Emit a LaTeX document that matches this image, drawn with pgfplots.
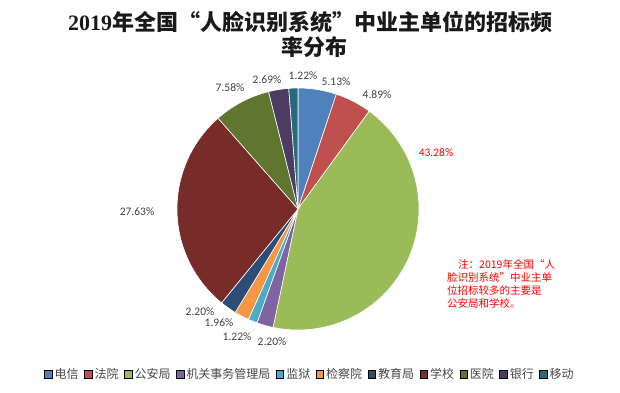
\documentclass[border=0pt]{standalone}
\usepackage{fontspec}
\usepackage{pgfplots}
\usepackage{pgfplotstable}
\pgfplotsset{compat=1.18}
\setmainfont{Noto Sans CJK SC}
\newfontfamily\lab{Carlito}
\newfontfamily\titlat{Liberation Serif}
\definecolor{c1}{HTML}{4F81BD}
\definecolor{c2}{HTML}{C0504D}
\definecolor{c3}{HTML}{9BBB59}
\definecolor{c4}{HTML}{8064A2}
\definecolor{c5}{HTML}{4BACC6}
\definecolor{c6}{HTML}{F79646}
\definecolor{c7}{HTML}{2C4D75}
\definecolor{c8}{HTML}{772C2A}
\definecolor{c9}{HTML}{5F7530}
\definecolor{c10}{HTML}{4D3B62}
\definecolor{c11}{HTML}{276A7C}
\definecolor{labgray}{HTML}{404040}
\pgfplotstableread{
val col
5.13 c1
4.89 c2
43.28 c3
2.20 c4
1.22 c5
1.96 c6
2.20 c7
27.63 c8
7.58 c9
2.69 c10
1.22 c11
}\pietable
\begin{document}
\begin{tikzpicture}
\begin{axis}[
  scale only axis, width=620pt, height=392pt,
  xmin=0, xmax=620, ymin=0, ymax=392,
  hide axis, clip=false,
  legend columns=-1,
  legend image code/.code={\fill[#1] (0pt,-3.8pt) rectangle (7.5pt,3.7pt);},
  legend style={at={(axis cs:310,18)}, anchor=center, draw=none, fill=none,
    font=\fontsize{12}{14}\selectfont\color{black!72},
    inner sep=0pt,
    /tikz/every even column/.append style={column sep=3.5pt},
    /tikz/every odd column/.append style={column sep=0.5pt}},
]
\path (axis cs:0,0) rectangle (axis cs:620,392);
\addlegendimage{fill=c1}\addlegendentry{电信}
\addlegendimage{fill=c2}\addlegendentry{法院}
\addlegendimage{fill=c3}\addlegendentry{公安局}
\addlegendimage{fill=c4}\addlegendentry{机关事务管理局}
\addlegendimage{fill=c5}\addlegendentry{监狱}
\addlegendimage{fill=c6}\addlegendentry{检察院}
\addlegendimage{fill=c7}\addlegendentry{教育局}
\addlegendimage{fill=c8}\addlegendentry{学校}
\addlegendimage{fill=c9}\addlegendentry{医院}
\addlegendimage{fill=c10}\addlegendentry{银行}
\addlegendimage{fill=c11}\addlegendentry{移动}
\pgfplotsextra{
  \pgfplotstablegetrowsof{\pietable}
  \pgfmathtruncatemacro{\N}{\pgfplotsretval-1}
  \gdef\cum{0}
  \foreach \i in {0,...,\N}{
    \pgfplotstablegetelem{\i}{val}\of\pietable \let\v\pgfplotsretval
    \pgfplotstablegetelem{\i}{col}\of\pietable \let\c\pgfplotsretval
    \pgfmathsetmacro\a{90-3.6*\cum}
    \pgfmathsetmacro\b{90-3.6*(\cum+\v)}
    \fill[fill=\c, draw=white, line width=0.6pt] (axis cs:298,183) -- ++(\a:121pt) arc[start angle=\a, end angle=\b, radius=121pt] -- cycle;
    \pgfmathsetmacro\nc{\cum+\v}
    \xdef\cum{\nc}
  }
}
% data labels
\begin{scope}[every node/.style={font=\lab\fontsize{11.5}{13}\selectfont, text=labgray, inner sep=0pt}]
\node at (axis cs:336,310) {5.13\%};
\node at (axis cs:377,297) {4.89\%};
\node[text=red] at (axis cs:436,239) {43.28\%};
\node at (axis cs:272,50) {2.20\%};
\node at (axis cs:237,55) {1.22\%};
\node at (axis cs:219,69) {1.96\%};
\node at (axis cs:200,80) {2.20\%};
\node at (axis cs:137,180) {27.63\%};
\node at (axis cs:230,304) {7.58\%};
\node at (axis cs:267,312) {2.69\%};
\node at (axis cs:303,316) {1.22\%};
\end{scope}
% title
\node[font=\fontsize{22}{24}\selectfont\bfseries, text=black!90, inner sep=0pt] at (axis cs:310,370) {{\titlat\bfseries 2019}年全国“人脸识别系统”中业主单位的招标频};
\node[font=\fontsize{22}{24}\selectfont\bfseries, text=black!90, inner sep=0pt] at (axis cs:314,345) {率分布};
% note
\node[anchor=north west, align=left, text=red, inner sep=0pt, font=\fontsize{10.5}{13}\selectfont] at (axis cs:447,133) {\hspace{11pt}注：2019年全国“人\\脸识别系统”中业主单\\位招标较多的主要是\\公安局和学校。};
\end{axis}
\end{tikzpicture}
\end{document}
